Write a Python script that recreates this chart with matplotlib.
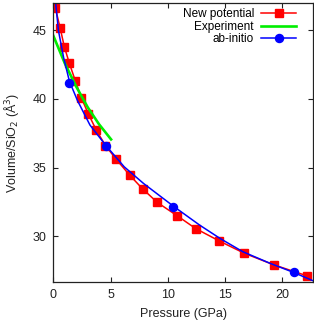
import matplotlib
matplotlib.use("Agg")
import matplotlib.pyplot as plt

plt.rcParams["font.family"] = ["Liberation Sans", "DejaVu Sans"]

# New potential (squares joined by line)
newpot_p = [0.17, 0.6, 0.96, 1.4, 1.93, 2.45, 3.07, 3.77, 4.56, 5.5,
            6.67, 7.8, 9.1, 10.8, 12.45, 14.5, 16.7, 19.3, 22.2]
newpot_v = [46.64, 45.15, 43.8, 42.6, 41.3, 40.07, 38.9, 37.7, 36.6, 35.6,
            34.45, 33.45, 32.45, 31.5, 30.55, 29.65, 28.75, 27.9, 27.1]

# Experiment
exp_p = [0.0, 1.0, 2.0, 3.0, 4.0, 5.05]
exp_v = [44.6, 42.6, 40.9, 39.4, 38.15, 37.05]

# ab-initio points and fitted curve
abinit_p = [1.35, 4.6, 10.5, 21.05]
abinit_v = [41.2, 36.6, 32.1, 27.35]
abfit_p = [0.2, 0.44, 0.9, 1.4, 2.1, 3.2, 4.6, 6.2, 7.9, 10.6,
           12.8, 14.6, 16.6, 19.0, 21.05, 22.7]
abfit_v = [47.0, 45.0, 43.0, 41.3, 39.9, 38.1, 36.6, 35.05, 33.83, 32.12,
           30.8, 29.82, 28.85, 28.0, 27.34, 26.75]

fig = plt.figure(figsize=(3.14, 3.21), dpi=100)
ax = fig.add_axes([0.170, 0.1215, 0.826, 0.8692])

ax.plot(newpot_p, newpot_v, color="red", lw=1.1, marker="s", ms=6,
        label="New potential")
ax.plot(exp_p, exp_v, color="#00ee00", lw=1.9, label="Experiment")
ax.plot(abfit_p, abfit_v, color="blue", lw=1.1)
ax.plot([], [], color="blue", lw=1.1, marker="o", ms=5.8, label="ab-initio")
ax.plot(abinit_p, abinit_v, ls="none", color="blue", marker="o", ms=5.8)

ax.set_xlim(0, 22.7)
ax.set_ylim(26.65, 47.0)
ax.set_xticks([0, 5, 10, 15, 20])
ax.set_yticks([30, 35, 40, 45])
ax.tick_params(direction="in", top=True, right=True, length=3.5,
               width=0.8, labelsize=9, colors="#222222", pad=5)
for s in ax.spines.values():
    s.set_linewidth(0.9)
    s.set_color("#222222")

ax.set_xlabel("Pressure (GPa)", fontsize=9, color="#222222", labelpad=5)
ax.set_ylabel("Volume/SiO$_2$ (Å$^3$)", fontsize=9, color="#222222",
              labelpad=8)

ax.legend(loc="upper right", bbox_to_anchor=(0.969, 1.011), frameon=False,
          markerfirst=False, fontsize=8.5, handlelength=3.0,
          handletextpad=0.6, labelspacing=0.05, borderaxespad=0.3,
          numpoints=1)

fig.savefig("out.png", dpi=100)
